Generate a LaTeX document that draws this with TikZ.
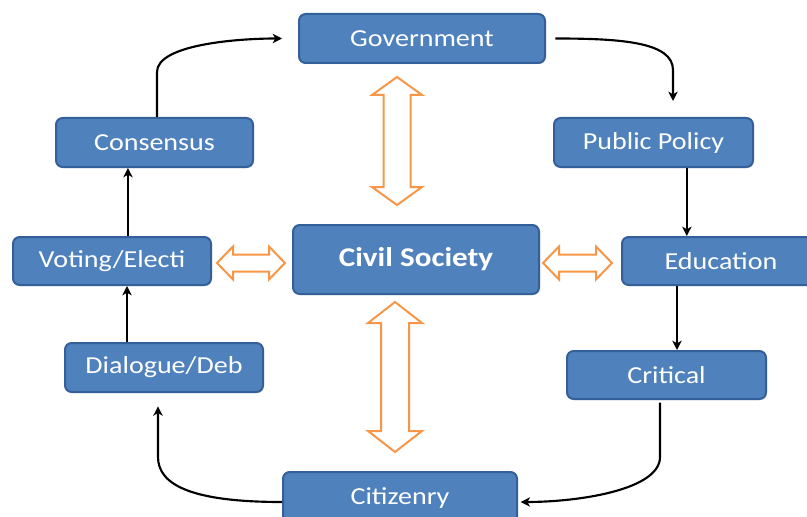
\documentclass[tikz,border=0pt]{standalone}
\usepackage{fontspec}
\setmainfont{Carlito}[FakeStretch=1.15]
\usetikzlibrary{arrows.meta,shadows}
\definecolor{boxfill}{HTML}{4F81BD}
\definecolor{boxline}{HTML}{34609A}
\definecolor{orng}{HTML}{F79646}
\tikzset{
  box/.style={rectangle, rounded corners=5pt, fill=boxfill, draw=boxline, line width=1.5pt,
    text=white, font=\fontsize{18.3}{20}\selectfont, minimum height=36.75pt, inner sep=0pt,
    drop shadow={opacity=0.25, shadow xshift=0.8pt, shadow yshift=-0.8pt}},
  conn/.style={line width=1.6pt, -{Stealth[length=7pt,width=7pt,inset=2pt]}},
  dblarrow/.style={draw=orng, line width=1.5pt, fill=white, line join=miter}
}
\begin{document}
\begin{tikzpicture}[x=0.75pt,y=-0.75pt]
\useasboundingbox (0,0) rectangle (807,517);
% nodes
\node[box, minimum width=184.5pt] (gov) at (422,38.5) {Government};
\node[box, minimum width=147.75pt] (cons) at (154.5,142.5) {Consensus};
\node[box, minimum width=149.25pt] (pp) at (653.5,142.5) {Public Policy};
\node[box, minimum width=148.5pt, minimum height=36pt] (vot) at (112,261) {Voting/Electi};
\node[box, minimum width=184.5pt, minimum height=51.75pt, font=\bfseries\fontsize{20.3}{22}\selectfont] (cs) at (416,259.5) {\raisebox{3pt}{Civil Society}};
\node[box, minimum width=148.5pt, minimum height=36pt] (edu) at (721,261) {Education};
\node[box, minimum width=148.5pt] (dlg) at (164,367.5) {Dialogue/Deb};
\node[box, minimum width=149.25pt, minimum height=36pt] (crit) at (666.5,375) {Critical};
\node[box, minimum width=175.5pt, minimum height=39pt] (cit) at (400,498) {Citizenry};
% bend points
\coordinate (b1) at (157,72);
\coordinate (b2) at (673,70);
\coordinate (b3) at (660,457);
\coordinate (b4) at (158,457);
% connectors
\draw[conn, shorten >=12pt] ([xshift=1.9pt]cons.north) -- (b1) .. controls +(0,-27) and +(-63,0) .. (gov.west);
\draw[conn, shorten <=7pt] (gov.east) .. controls +(75,0) and +(0,-28) .. (b2) -- ([yshift=12pt]b2 |- pp.north);
\draw[conn] ([xshift=25pt]pp.south) -- ([xshift=25pt]pp.south |- edu.north);
\draw[conn] ([xshift=-33pt]edu.south) -- ([xshift=-33pt]edu.south |- crit.north);
\draw[conn, shorten <=2pt, shorten >=2pt] (b3 |- crit.south) -- (b3) .. controls +(0,33) and +(60,0) .. ([yshift=-3pt]cit.east);
\draw[conn, shorten >=10pt] ([yshift=-3pt]cit.west) .. controls +(-90,0) and +(0,28) .. (b4) -- (b4 |- dlg.south);
\draw[conn] ([xshift=-27.75pt]dlg.north) -- ([xshift=-27.75pt]dlg.north |- vot.south);
\draw[conn] ([xshift=-19.9pt]cons.south |- vot.north) -- ([xshift=-19.9pt]cons.south);
% orange double arrows
\draw[dblarrow] (397,77) -- (422,95) -- (410.5,95) -- (410.5,187) -- (422,187) -- (397,205)
  -- (372,187) -- (383.5,187) -- (383.5,95) -- (372,95) -- cycle;
\draw[dblarrow] (395,302) -- (422,323) -- (409,323) -- (409,431) -- (422,431) -- (395,452)
  -- (368,431) -- (381,431) -- (381,323) -- (368,323) -- cycle;
\draw[dblarrow] (217,263) -- (233,246.5) -- (233,254.5) -- (269,254.5) -- (269,246.5) -- (285,263)
  -- (269,279.5) -- (269,271.5) -- (233,271.5) -- (233,279.5) -- cycle;
\draw[dblarrow] (543,263) -- (559,246.5) -- (559,254.5) -- (596,254.5) -- (596,246.5) -- (612,263)
  -- (596,279.5) -- (596,271.5) -- (559,271.5) -- (559,279.5) -- cycle;
\end{tikzpicture}
\end{document}
